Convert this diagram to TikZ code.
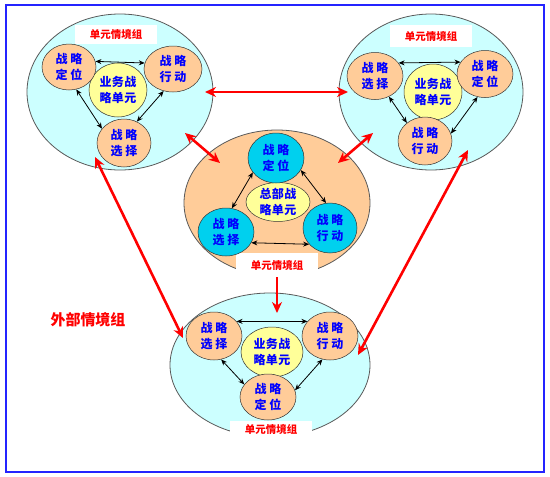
\documentclass[tikz,border=0pt]{standalone}
\usepackage{fontspec}
\newfontfamily\cjk{Noto Sans CJK SC}
\usetikzlibrary{shapes.geometric,arrows.meta}
\definecolor{skyfill}{RGB}{204,255,255}
\definecolor{peach}{RGB}{255,204,153}
\definecolor{lemon}{RGB}{255,255,153}
\definecolor{aqua}{RGB}{0,208,238}
\definecolor{framebl}{RGB}{36,36,255}
\tikzset{
    group/.style={ellipse, draw=black!65, line width=0.8pt, inner sep=0pt},
    cell/.style={ellipse, draw=black!80, line width=0.5pt, inner sep=0pt, fill=peach,
        minimum width=56pt, minimum height=47pt, align=center, text=blue,
        font=\cjk\bfseries\fontsize{12}{16}\selectfont\addfontfeature{LetterSpace=22}},
    unit/.style={cell, fill=lemon, font=\cjk\bfseries\fontsize{12}{16}\selectfont\addfontfeature{LetterSpace=4}},
    tag/.style={rectangle, fill=white, inner sep=0pt, minimum width=82pt, minimum height=19pt,
        text=red, font=\cjk\bfseries\fontsize{10.5}{12}\selectfont},
    link/.style={{Stealth[length=6pt,width=5pt]}-{Stealth[length=6pt,width=5pt]}, line width=0.8pt},
    flow/.style={-{Stealth[length=11pt,width=10pt]}, red, line width=2.6pt},
    flows/.style={flow, {Stealth[length=11pt,width=10pt]}-{Stealth[length=11pt,width=10pt]}}
}
\begin{document}
\begin{tikzpicture}[x=1pt,y=-1pt]
    \useasboundingbox (0,0) rectangle (550,477);
    \draw[framebl, line width=1.5pt] (6,5) rectangle (544,472);

    % top left
    \node[group, fill=skyfill, minimum width=186pt, minimum height=156pt] (tl) at (120,92) {};
    \node[tag] (tltag) at (116,34) {单元情境组};
    \node[unit, minimum width=58pt, minimum height=54pt] (tlunit) at (118,90) {业务战\\略单元};
    \node[cell, minimum width=54pt, minimum height=46pt] (tlpos) at (69,67) {战略\\定位};
    \node[cell, minimum width=58pt, minimum height=46pt] (tlact) at (173,69) {战略\\行动};
    \node[cell, minimum width=54pt, minimum height=48pt] (tlsel) at (124,143) {战略\\选择};
    \draw[link] (tlpos.12) -- (tlact.168);
    \draw[link] (tlpos.-72) -- (tlsel.147);
    \draw[link] (tlact.-113) -- (tlsel.59);

    % top right
    \node[group, fill=skyfill, minimum width=184pt, minimum height=156pt] (tr) at (431,92) {};
    \node[tag, minimum height=22pt] (trtag) at (431,36) {单元情境组};
    \node[unit, minimum width=58pt, minimum height=56pt] (trunit) at (433,92) {业务战\\略单元};
    \node[cell] (trsel) at (375,76) {战略\\选择};
    \node[cell] (trpos) at (485,74) {战略\\定位};
    \node[cell, minimum width=54pt, minimum height=48pt] (tract) at (425,141) {战略\\行动};
    \draw[link] (trsel.29) -- (trpos.154);
    \draw[link] (trsel.-56) -- (tract.135);
    \draw[link] (trpos.-108) -- (tract.16);

    % centre
    \node[group, fill=peach, minimum width=186pt, minimum height=146pt] (ctr) at (277,203) {};
    \node[tag, minimum height=24pt] (ctrtag) at (277,265) {单元情境组};
    \node[unit, minimum width=64pt, minimum height=38pt] (ctrunit) at (278,202) {总部战\\略单元};
    \node[cell, fill=aqua, minimum height=50pt] (ctrpos) at (276,158) {战略\\定位};
    \node[cell, fill=aqua, minimum height=48pt] (ctrsel) at (226,232) {战略\\选择};
    \node[cell, fill=aqua, minimum width=54pt, minimum height=50pt] (ctract) at (330,228) {战略\\行动};
    \draw[link] (ctrpos.212) -- (ctrsel.76);
    \draw[link] (ctrpos.-26) -- (ctract.99);
    \draw[link] (ctrsel.-23) -- (ctract.218);

    % bottom
    \node[group, fill=skyfill, minimum width=200pt, minimum height=144pt] (bot) at (270,365) {};
    \node[unit, minimum width=62pt, minimum height=50pt] (botunit) at (272,352) {业务战\\略单元};
    \node[cell, minimum height=48pt] (botsel) at (214,336) {战略\\选择};
    \node[cell, minimum height=48pt] (botact) at (330,336) {战略\\行动};
    \node[cell, minimum height=46pt] (botpos) at (268,397) {战略\\定位};
    \node[tag, minimum height=17pt] (bottag) at (271,429) {单元情境组};
    \draw[link] (botsel.33) -- (botact.147);
    \draw[link] (botsel.-73) -- (botpos.152);
    \draw[link] (botact.-108) -- (botpos.14);

    % links between the groups
    \coordinate (tlr) at (205,92);
    \coordinate (trl) at (348,92);
    \coordinate (tlc) at (185,133);
    \coordinate (ctl) at (220,163);
    \coordinate (trc) at (373,133);
    \coordinate (ctr2) at (338,163);
    \coordinate (botin) at (277,313);
    \coordinate (tlb) at (95,157);
    \coordinate (botl) at (183,338);
    \coordinate (trb) at (468,150);
    \coordinate (botr) at (358,355);
    \draw[flows] (tlr) -- (trl);
    \draw[flows] (tlc) -- (ctl);
    \draw[flows] (trc) -- (ctr2);
    \draw[flow] (ctrtag.south) -- (botin);
    \draw[flows] (tlb) -- (botl);
    \draw[flows] (trb) -- (botr);

    \node[text=red, font=\cjk\bfseries\fontsize{15}{18}\selectfont] (outer) at (88,320) {外部情境组};
\end{tikzpicture}
\end{document}
